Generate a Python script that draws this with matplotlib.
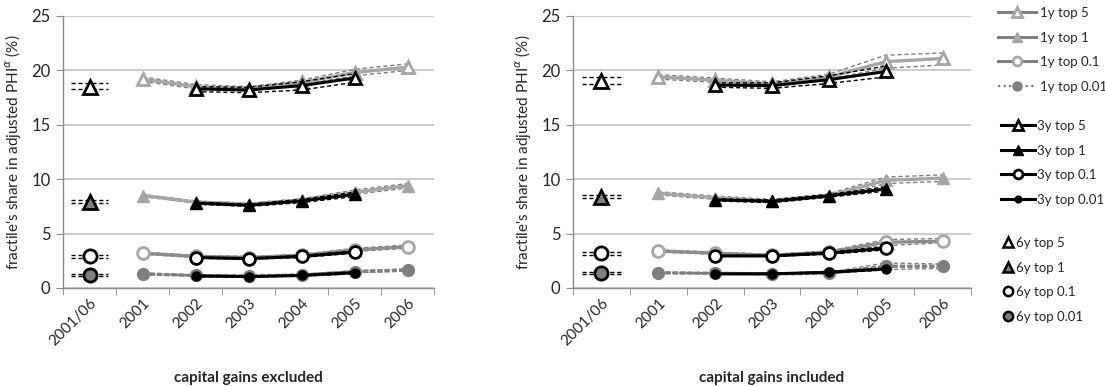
import matplotlib
matplotlib.use("Agg")
import matplotlib.pyplot as plt
from matplotlib.lines import Line2D
from matplotlib.ticker import FixedLocator, NullFormatter

plt.rcParams['font.family'] = ['Lato', 'DejaVu Sans']

categories = ["2001/06", "2001", "2002", "2003", "2004", "2005", "2006"]
years_1y = ["2001", "2002", "2003", "2004", "2005", "2006"]
years_3y = ["2002", "2003", "2004", "2005"]
years_6y = ["2001/06"]
fractiles = ["top 5", "top 1", "top 0.1", "top 0.01"]

# ---- capital gains excluded ----
ex_1y_top5 = [19.2, 18.5, 18.3, 18.9, 19.8, 20.3]
ex_1y_top5_hi = [19.4, 18.7, 18.5, 19.1, 20.1, 20.6]
ex_1y_top5_lo = [19.0, 18.3, 18.1, 18.7, 19.5, 20.0]
ex_1y_top1 = [8.5, 7.9, 7.7, 8.1, 8.8, 9.4]
ex_1y_top1_hi = [8.6, 8.0, 7.8, 8.2, 9.0, 9.6]
ex_1y_top1_lo = [8.4, 7.8, 7.6, 8.0, 8.6, 9.2]
ex_1y_top01 = [3.2, 2.9, 2.8, 3.0, 3.5, 3.8]
ex_1y_top01_hi = [3.3, 3.0, 2.9, 3.1, 3.65, 3.95]
ex_1y_top01_lo = [3.1, 2.8, 2.7, 2.9, 3.35, 3.65]
ex_1y_top001 = [1.3, 1.15, 1.1, 1.2, 1.5, 1.65]
ex_1y_top001_hi = [1.35, 1.2, 1.15, 1.25, 1.6, 1.75]
ex_1y_top001_lo = [1.25, 1.1, 1.05, 1.15, 1.4, 1.55]

ex_3y_top5 = [18.3, 18.2, 18.6, 19.3]
ex_3y_top5_hi = [18.5, 18.45, 18.95, 19.7]
ex_3y_top5_lo = [18.05, 17.95, 18.2, 18.9]
ex_3y_top1 = [7.8, 7.6, 8.0, 8.6]
ex_3y_top1_hi = [7.9, 7.7, 8.15, 8.8]
ex_3y_top1_lo = [7.7, 7.5, 7.85, 8.4]
ex_3y_top01 = [2.8, 2.7, 2.9, 3.3]
ex_3y_top01_hi = [2.85, 2.75, 3.0, 3.4]
ex_3y_top01_lo = [2.75, 2.65, 2.8, 3.2]
ex_3y_top001 = [1.1, 1.05, 1.15, 1.4]
ex_3y_top001_hi = [1.15, 1.1, 1.2, 1.5]
ex_3y_top001_lo = [1.05, 1.0, 1.1, 1.3]

ex_6y = [18.5, 7.9, 2.9, 1.15]
ex_6y_hi = [18.85, 8.05, 3.05, 1.25]
ex_6y_lo = [18.25, 7.8, 2.75, 1.1]

# ---- capital gains included ----
in_1y_top5 = [19.4, 19.1, 18.75, 19.4, 20.8, 21.1]
in_1y_top5_hi = [19.6, 19.3, 18.95, 19.65, 21.4, 21.6]
in_1y_top5_lo = [19.2, 18.9, 18.55, 19.2, 20.2, 20.5]
in_1y_top1 = [8.7, 8.3, 8.0, 8.5, 9.9, 10.1]
in_1y_top1_hi = [8.85, 8.45, 8.15, 8.65, 10.2, 10.4]
in_1y_top1_lo = [8.55, 8.15, 7.85, 8.35, 9.6, 9.8]
in_1y_top01 = [3.4, 3.2, 3.0, 3.3, 4.2, 4.3]
in_1y_top01_hi = [3.5, 3.3, 3.1, 3.4, 4.45, 4.55]
in_1y_top01_lo = [3.3, 3.1, 2.9, 3.2, 3.9, 4.15]
in_1y_top001 = [1.4, 1.35, 1.3, 1.35, 2.0, 2.0]
in_1y_top001_hi = [1.45, 1.4, 1.35, 1.45, 2.3, 2.2]
in_1y_top001_lo = [1.35, 1.3, 1.25, 1.3, 1.7, 1.8]

in_3y_top5 = [18.65, 18.6, 19.15, 19.9]
in_3y_top5_hi = [18.85, 18.85, 19.5, 20.4]
in_3y_top5_lo = [18.45, 18.35, 18.8, 19.4]
in_3y_top1 = [8.1, 7.97, 8.47, 9.1]
in_3y_top1_hi = [8.2, 8.1, 8.6, 9.3]
in_3y_top1_lo = [8.0, 7.85, 8.35, 8.9]
in_3y_top01 = [2.95, 2.95, 3.2, 3.65]
in_3y_top01_hi = [3.0, 3.0, 3.3, 3.8]
in_3y_top01_lo = [2.9, 2.9, 3.1, 3.5]
in_3y_top001 = [1.3, 1.3, 1.45, 1.75]
in_3y_top001_hi = [1.35, 1.35, 1.5, 1.85]
in_3y_top001_lo = [1.25, 1.25, 1.4, 1.65]

in_6y = [19.0, 8.4, 3.2, 1.4]
in_6y_hi = [19.4, 8.55, 3.35, 1.5]
in_6y_lo = [18.75, 8.3, 3.05, 1.3]

panel_titles = ["capital gains excluded", "capital gains included"]
y_label = "fractile's share in adjusted PHI$^{\\alpha}$ (%)"

GRAY_L = '#a6a6a6'
GRAY_M = '#8c8c8c'
GRAY_D = '#7f7f7f'
TXT = '#262626'

def xs(labels):
    return [categories.index(l) for l in labels]

styles_1y = [
    dict(marker='^', ms=9, mfc='white', mec=GRAY_L, mew=2, color=GRAY_L, ls='-'),
    dict(marker='^', ms=9, mfc=GRAY_L, mec=GRAY_L, mew=1, color=GRAY_L, ls='-'),
    dict(marker='o', ms=8.5, mfc='white', mec=GRAY_L, mew=2, color=GRAY_M, ls='-'),
    dict(marker='o', ms=8.5, mfc=GRAY_D, mec=GRAY_D, mew=1, color=GRAY_D, ls=(0, (1.6, 0.6))),
]
styles_3y = [
    dict(marker='^', ms=9, mfc='white', mec='black', mew=2, color='black', ls='-'),
    dict(marker='^', ms=9, mfc='black', mec='black', mew=1, color='black', ls='-'),
    dict(marker='o', ms=8.5, mfc='white', mec='black', mew=2, color='black', ls='-'),
    dict(marker='o', ms=6.5, mfc='black', mec='black', mew=1, color='black', ls='-'),
]
styles_6y = [
    dict(marker='^', ms=10, mfc='white', mec='black', mew=2),
    dict(marker='^', ms=10, mfc=GRAY_D, mec='black', mew=2),
    dict(marker='o', ms=9.5, mfc='white', mec='black', mew=2),
    dict(marker='o', ms=9.5, mfc=GRAY_D, mec='black', mew=2),
]

panels = [
    dict(one=[ex_1y_top5, ex_1y_top1, ex_1y_top01, ex_1y_top001],
         one_hi=[ex_1y_top5_hi, ex_1y_top1_hi, ex_1y_top01_hi, ex_1y_top001_hi],
         one_lo=[ex_1y_top5_lo, ex_1y_top1_lo, ex_1y_top01_lo, ex_1y_top001_lo],
         three=[ex_3y_top5, ex_3y_top1, ex_3y_top01, ex_3y_top001],
         three_hi=[ex_3y_top5_hi, ex_3y_top1_hi, ex_3y_top01_hi, ex_3y_top001_hi],
         three_lo=[ex_3y_top5_lo, ex_3y_top1_lo, ex_3y_top01_lo, ex_3y_top001_lo],
         six=ex_6y, six_hi=ex_6y_hi, six_lo=ex_6y_lo),
    dict(one=[in_1y_top5, in_1y_top1, in_1y_top01, in_1y_top001],
         one_hi=[in_1y_top5_hi, in_1y_top1_hi, in_1y_top01_hi, in_1y_top001_hi],
         one_lo=[in_1y_top5_lo, in_1y_top1_lo, in_1y_top01_lo, in_1y_top001_lo],
         three=[in_3y_top5, in_3y_top1, in_3y_top01, in_3y_top001],
         three_hi=[in_3y_top5_hi, in_3y_top1_hi, in_3y_top01_hi, in_3y_top001_hi],
         three_lo=[in_3y_top5_lo, in_3y_top1_lo, in_3y_top01_lo, in_3y_top001_lo],
         six=in_6y, six_hi=in_6y_hi, six_lo=in_6y_lo),
]

W, H = 1105, 387
fig = plt.figure(figsize=(W / 100, H / 100), dpi=100)
rects = [(63, 434), (573, 971)]
top_px, bot_px = 16, 288

for (x0, x1), pdata, title in zip(rects, panels, panel_titles):
    ax = fig.add_axes([x0 / W, 1 - bot_px / H, (x1 - x0) / W, (bot_px - top_px) / H])
    ax.set_xlim(-0.5, len(categories) - 0.5)
    ax.set_ylim(0, 25)
    ax.set_yticks([0, 5, 10, 15, 20, 25])
    ax.grid(axis='y', color='#bfbfbf', lw=1.1, zorder=0)
    ax.set_axisbelow(True)
    for s in ['top', 'right']:
        ax.spines[s].set_visible(False)
    for s in ['left', 'bottom']:
        ax.spines[s].set_color('#8c8c8c')
        ax.spines[s].set_linewidth(1.0)

    x1y, x3y, x6y = xs(years_1y), xs(years_3y), xs(years_6y)
    # 1y series
    for i in range(4):
        ax.plot(x1y, pdata['one_hi'][i], ls='--', dashes=(3, 2), color=GRAY_D, lw=1, zorder=2)
        ax.plot(x1y, pdata['one_lo'][i], ls='--', dashes=(3, 2), color=GRAY_D, lw=1, zorder=2)
        st = dict(styles_1y[i])
        ax.plot(x1y, pdata['one'][i], lw=2.4, zorder=3, **st)
    # 3y series
    for i in range(4):
        ax.plot(x3y, pdata['three_hi'][i], ls='--', dashes=(3, 2), color='black', lw=1, zorder=4)
        ax.plot(x3y, pdata['three_lo'][i], ls='--', dashes=(3, 2), color='black', lw=1, zorder=4)
        ax.plot(x3y, pdata['three'][i], lw=2.2, zorder=5, **styles_3y[i])
    # 6y points with bounds
    for i in range(4):
        xc = x6y[0]
        for b in (pdata['six_hi'][i], pdata['six_lo'][i]):
            ax.plot([xc - 0.34, xc + 0.34], [b, b], ls='--', dashes=(3, 2), color='black', lw=1, zorder=4)
        ax.plot(x6y, [pdata['six'][i]], ls='None', zorder=6, **styles_6y[i])

    ax.set_xticks(range(len(categories)))
    ax.set_xticklabels(categories, rotation=45, ha='right', rotation_mode='anchor',
                       fontsize=11, color=TXT)
    ax.tick_params(axis='x', which='major', length=0, pad=6)
    ax.xaxis.set_minor_locator(FixedLocator([k - 0.5 for k in range(len(categories) + 1)]))
    ax.xaxis.set_minor_formatter(NullFormatter())
    ax.tick_params(axis='x', which='minor', length=5, color='#8c8c8c', direction='out')
    ax.tick_params(axis='y', length=5, color='#8c8c8c', labelsize=12, labelcolor=TXT, pad=4)
    ax.set_ylabel(y_label, fontsize=11, color=TXT, labelpad=6)
    ax.set_xlabel(title, fontsize=11, fontweight='bold', color=TXT, labelpad=16)

# Legends
def lh(st, ms_scale=0.75, lw=2.2):
    d = dict(st)
    d['ms'] = d['ms'] * ms_scale
    return Line2D([], [], lw=lw, **d)

h1 = [lh(s) for s in styles_1y]
h1[3] = Line2D([], [], lw=1.6, marker='o', ms=6.5, mfc=GRAY_D, mec=GRAY_D,
               color=GRAY_D, ls=(0, (1, 1.5)))
for h in h1[:3]:
    h.set_color(GRAY_D)
h3 = [lh(s) for s in styles_3y]
h6 = [Line2D([], [], ls='None', marker=s['marker'], ms=s['ms'] * 0.7, mfc=s['mfc'],
             mec=s['mec'], mew=1.8) for s in styles_6y]

common = dict(frameon=False, fontsize=9.5, labelspacing=0.95, borderaxespad=0,
              borderpad=0, labelcolor=TXT)
leg1 = fig.legend(h1, ["1y " + f for f in fractiles], loc='upper left',
                  bbox_to_anchor=(998 / W, 1 - 7 / H), handlelength=2.9,
                  handletextpad=0.25, **common)
leg3 = fig.legend(h3, ["3y " + f for f in fractiles], loc='upper left',
                  bbox_to_anchor=(1001 / W, 1 - 120 / H), handlelength=2.6,
                  handletextpad=0.15, **common)
leg6 = fig.legend(h6, ["6y " + f for f in fractiles], loc='upper left',
                  bbox_to_anchor=(1003 / W, 1 - 237 / H), handlelength=0.8,
                  handletextpad=0.2, **common)

fig.savefig("out.png", dpi=100)
